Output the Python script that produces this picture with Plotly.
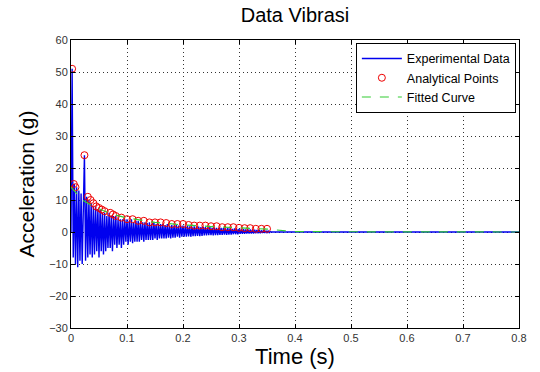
import plotly.graph_objects as go

# ---- data ----
dt = 0.002
exp_vals = [
    0, 51, -8, 15, -10, 14, -11, 13, -9, 12,
    -10, 8, 24, -9, 11, -8, 10, -7, 9, -8,
    8, -7, 8, -6, 7, -8, 7, -6, 6, -7,
    6, -6, 5, -5, 6, -5, 5, -6, 5, -4,
    5, -5, 4, -4, 4, -5, 4, -4, 4, -3,
    4, -4, 3.5, -3, 4, -3.5, 3, -3, 3.5, -3,
    3.5, -3, 3, -2.5, 3, -3, 3, -2.5, 2.8, -2.5,
    3, -2.5, 2.5, -2.5, 3, -2, 2.5, -2.5, 2.5, -2,
    2.5, -2, 2.5, -2, 2.2, -2, 2.5, -1.8, 2, -2,
    2.2, -1.8, 2, -1.8, 2.2, -1.5, 2, -1.8, 2, -1.5,
    2, -1.5, 1.8, -1.5, 2, -1.4, 1.8, -1.5, 1.6, -1.3,
    1.8, -1.3, 1.6, -1.2, 1.7, -1.3, 1.5, -1.2, 1.6, -1.1,
    1.5, -1.1, 1.4, -1, 1.5, -1, 1.3, -1.1, 1.4, -1,
    1.3, -1, 1.2, -0.9, 1.3, -0.9, 1.2, -0.8, 1.1, -0.9,
    1.2, -0.8, 1.1, -0.8, 1, -0.7, 1.1, -0.7, 1, -0.7,
    1, -0.6, 0.9, -0.6, 0.9, -0.6, 0.8, -0.5, 0.8, -0.5,
    0.8, -0.5, 0.7, -0.5, 0.7, -0.4, 0.6, -0.4, 0.6, -0.4,
    0.5, -0.3, 0.5, -0.3, 0.4, -0.2, 0.3, -0.2, 0.1, 0,
    0,
]
exp_t = [round(i * dt, 4) for i in range(len(exp_vals) - 1)] + [0.8]

ana_t = [0.002, 0.005, 0.008, 0.024, 0.03, 0.035, 0.04, 0.045, 0.05, 0.055,
         0.06, 0.07, 0.075, 0.08, 0.09, 0.1, 0.11, 0.12, 0.13, 0.14,
         0.15, 0.16, 0.17, 0.18, 0.19, 0.2, 0.21, 0.22, 0.23, 0.24,
         0.25, 0.26, 0.27, 0.28, 0.29, 0.3, 0.31, 0.32, 0.33, 0.34, 0.35]
ana_v = [51, 15, 14, 24, 11, 10, 9, 8, 7.5, 7,
         6.5, 6, 5.5, 5, 4.5, 4, 4, 3.5, 3.5, 3,
         3, 3, 2.8, 2.5, 2.5, 2.5, 2.2, 2, 2, 2,
         1.8, 1.8, 1.5, 1.5, 1.5, 1.3, 1.2, 1.2, 1, 1, 1]

fit_t = [0.0, 0.02, 0.04, 0.06, 0.08, 0.1, 0.15, 0.2, 0.25, 0.3, 0.35, 0.4, 0.5, 0.6, 0.7, 0.8]
fit_v = [14, 10, 8, 6.5, 5.3, 4.4, 3.0, 2.2, 1.7, 1.3, 0.9, 0.1, 0.05, 0.02, 0.01, 0.0]

x_ticks = [0, 0.1, 0.2, 0.3, 0.4, 0.5, 0.6, 0.7, 0.8]
y_ticks = [-30, -20, -10, 0, 10, 20, 30, 40, 50, 60]

FONT = "Liberation Sans, Arial, sans-serif"

fig = go.Figure()
fig.add_trace(go.Scatter(x=exp_t, y=exp_vals, mode="lines", name="Experimental Data",
                         line=dict(color="#0000ee", width=1.4)))
fig.add_trace(go.Scatter(x=ana_t, y=ana_v, mode="markers", name="Analytical Points",
                         marker=dict(symbol="circle-open", color="#ee0000", size=7,
                                     line=dict(width=1))))
fig.add_trace(go.Scatter(x=fit_t, y=fit_v, mode="lines", name="Fitted Curve",
                         line=dict(color="#33cc33", width=1.2, dash="dash")))

axis_common = dict(showline=True, linecolor="black", linewidth=1, mirror="ticks",
                   ticks="inside", ticklen=4, tickcolor="black",
                   showgrid=True, gridcolor="#333", griddash="1px,3px", gridwidth=1,
                   zeroline=False, automargin=False,
                   tickfont=dict(family=FONT, size=11, color="#333"))

fig.update_layout(
    width=540, height=372,
    margin=dict(l=71, r=21, t=40, b=44, autoexpand=False),
    paper_bgcolor="white", plot_bgcolor="white",
    font=dict(family=FONT, color="black"),
    title=dict(text="Data Vibrasi", x=(71 + 519) / 2 / 540, xanchor="center",
               y=1 - 15 / 372, yanchor="middle", font=dict(size=20, family=FONT)),
    xaxis=dict(range=[0, 0.8], tickvals=x_ticks,
               title=dict(text="Time (s)", font=dict(size=22, family=FONT), standoff=0),
               **axis_common),
    yaxis=dict(range=[-30, 60], tickvals=y_ticks,
               title=dict(text="Acceleration (g)", font=dict(size=21, family=FONT), standoff=8),
               **axis_common),
    legend=dict(x=0.993, y=0.99, xanchor="right", yanchor="top",
                bgcolor="white", bordercolor="black", borderwidth=1,
                font=dict(size=12.5, family=FONT), tracegroupgap=0,
                itemwidth=40),
    showlegend=True,
)

fig.write_html("out.html", config={"displayModeBar": False},
               post_script="document.body.style.margin='0';document.body.style.overflow='hidden';")
